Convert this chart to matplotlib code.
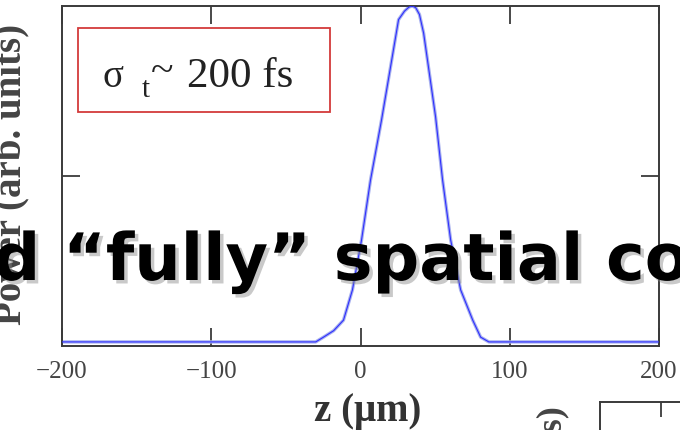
import matplotlib
matplotlib.use("Agg")
import matplotlib.pyplot as plt
import matplotlib.patheffects as pe
from matplotlib.patches import Rectangle

# pulse profile: z (um) vs power (arb. units)
z_um = [-200, -30, -24.8, -18.0, -11.4, -5.4, 0.7, 6.7, 14.1, 20.1, 25.5, 29.5, 32.5, 34.7,
        37.0, 39.5, 42.3, 50.3, 55.0, 60.4, 67.1, 75.2, 80.5, 86.0, 200]
power = [0.012, 0.012, 0.026, 0.045, 0.076, 0.165, 0.312, 0.488, 0.665, 0.82, 0.96, 0.985, 0.997, 1.0,
         0.995, 0.975, 0.92, 0.674, 0.488, 0.312, 0.165, 0.076, 0.026, 0.012, 0.012]
x_ticks = [-200, -100, 0, 100, 200]
x_ticklabels = ["\u2212200", "\u2212100", "0", "100", "200"]
y_ticks = [0.5]

W, H = 680, 430
serif = "Liberation Serif"
grey = "#3a3a3a"

fig = plt.figure(figsize=(W / 100, H / 100), dpi=100)
ax = fig.add_axes([62 / W, 1 - 346 / H, 597 / W, 340 / H])

ax.plot(z_um, power, color="#a7b0ee", lw=2.4, solid_capstyle="butt", zorder=2)
ax.plot(z_um, power, color="#2f2fff", lw=0.8, zorder=3)

ax.set_xlim(-200, 200)
ax.set_ylim(0, 1)
ax.set_xticks(x_ticks)
ax.set_xticklabels(x_ticklabels)
ax.set_yticks(y_ticks)
ax.tick_params(direction="in", length=13, width=1.3, color=grey,
               top=True, right=True, labelleft=False, pad=11,
               labelsize=18, labelcolor="#444444")
for lab in ax.get_xticklabels():
    lab.set_family(serif)
for sp in ax.spines.values():
    sp.set_color(grey)
    sp.set_linewidth(1.4)

ax.set_xlabel("z (\u03bcm)", family=serif, fontweight="bold", fontsize=28, color="#333333",
              va="center")
ax.xaxis.set_label_coords(0.5126, -0.194)
ax.set_ylabel("Power (arb. units)", family=serif, fontweight="bold", fontsize=28, color="#444444")
ax.yaxis.set_label_coords(-0.054, 0.505)

# sigma_t box
fig.patches.append(Rectangle((78 / W, 1 - 112 / H), 252 / W, 84 / H, transform=fig.transFigure,
                             fill=False, edgecolor="#d33a3a", lw=1.3))
fig.text(103 / W, 1 - 87 / H, "\u03c3", family=serif, fontsize=28, va="baseline", color="#222222")
fig.text(142 / W, 1 - 97 / H, "t", family=serif, fontsize=21, va="baseline", color="#222222")
fig.text(151 / W, 1 - 82 / H, "~", family=serif, fontsize=30, va="baseline", color="#222222")
fig.text(187 / W, 1 - 87 / H, "200 fs", family=serif, fontsize=31, va="baseline", color="#222222")

# piece of the neighbouring plot at the bottom right
ax2 = fig.add_axes([600 / W, -0.5, 0.3, 0.5 + (430 - 402) / H])
ax2.set_xlim(0, 1)
ax2.set_xticks([0.3])
ax2.set_yticks([])
ax2.tick_params(direction="in", length=11, width=1.3, color=grey, top=True, bottom=False,
                labelbottom=False)
for sp in ax2.spines.values():
    sp.set_color(grey)
    sp.set_linewidth(1.4)
fig.text(553 / W, 1 - 406 / H, "Time (fs)", family=serif, fontweight="bold", fontsize=26,
         rotation=90, ha="center", va="top", color="#444444")

# slide title running over the plot
fig.text(-97 / W, 1 - 280 / H, "and \u201cfully\u201d spatial coherence", family="DejaVu Sans",
         fontweight="bold", fontsize=47, color="black", va="baseline",
         path_effects=[pe.withSimplePatchShadow(offset=(2.5, -2.5), shadow_rgbFace="#888888", alpha=0.45)])

fig.savefig("out.png", dpi=100)
